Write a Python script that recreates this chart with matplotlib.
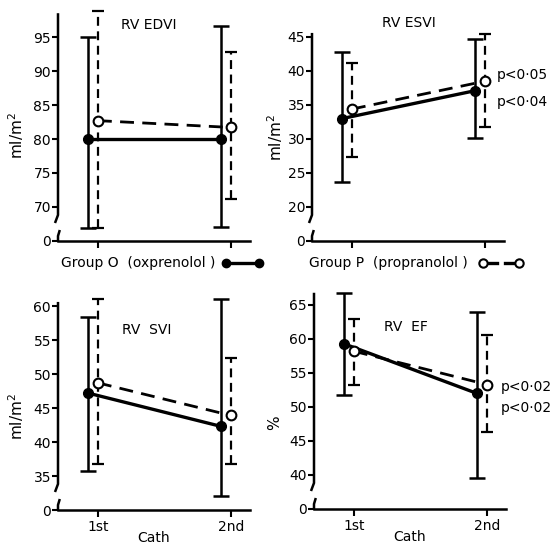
import matplotlib
matplotlib.use('Agg')
import matplotlib.pyplot as plt
from matplotlib.lines import Line2D

plt.rcParams['font.family'] = ['DejaVu Sans']
plt.rcParams['mathtext.default'] = 'regular'

# x positions: 1st / 2nd catheterisation
cath = [1, 2]
cath_labels = ['1st', '2nd']

# RV EDVI (ml/m2)
edvi_o_mean = [80.0, 80.0]
edvi_o_lo = [66.9, 67.0]
edvi_o_hi = [95.0, 96.6]
edvi_p_mean = [82.7, 81.7]
edvi_p_lo = [66.9, 71.2]
edvi_p_hi = [98.8, 92.8]

# RV ESVI (ml/m2)
esvi_o_mean = [33.0, 37.1]
esvi_o_lo = [23.7, 30.2]
esvi_o_hi = [42.8, 44.7]
esvi_p_mean = [34.4, 38.5]
esvi_p_lo = [27.4, 31.8]
esvi_p_hi = [41.2, 45.5]

# RV SVI (ml/m2)
svi_o_mean = [47.2, 42.3]
svi_o_lo = [35.7, 32.0]
svi_o_hi = [58.4, 61.1]
svi_p_mean = [48.7, 43.9]
svi_p_lo = [36.7, 36.7]
svi_p_hi = [61.1, 52.4]

# RV EF (%)
ef_o_mean = [59.3, 52.0]
ef_o_lo = [51.8, 39.6]
ef_o_hi = [66.8, 64.0]
ef_p_mean = [58.2, 53.3]
ef_p_lo = [53.3, 46.3]
ef_p_hi = [62.9, 60.6]

W, H = 552, 546
PX_PER_UNIT = 6.8
XLIM = (0.7, 2.14)
X_PX = 133
O_SHIFT = -0.075
P_SHIFT = 0.0
FS = 10

fig = plt.figure(figsize=(W / 100, H / 100), dpi=100)


def make_axes(left_px, bottom_px, ylo, yhi):
    width = (XLIM[1] - XLIM[0]) * X_PX
    height = (yhi - ylo) * PX_PER_UNIT
    ax = fig.add_axes([left_px / W, 1 - bottom_px / H, width / W, height / H])
    ax.set_xlim(*XLIM)
    ax.set_ylim(ylo, yhi)
    return ax


def draw_panel(ax, o_mean, o_lo, o_hi, p_mean, p_lo, p_hi, yticks, bottom_row):
    ylo, yhi = ax.get_ylim()
    xo = [c + O_SHIFT for c in cath]
    xp = [c + P_SHIFT for c in cath]

    # group P: dashed, open circles
    ax.vlines(xp, p_lo, p_hi, colors='black', linewidth=1.6,
              linestyles=(0, (4, 2.5)), clip_on=False, zorder=3)
    ax.plot(xp, p_lo, ls='none', marker='_', ms=8, mew=1.6, color='black',
            clip_on=False, zorder=3)
    ax.plot(xp, p_hi, ls='none', marker='_', ms=8, mew=1.6, color='black',
            clip_on=False, zorder=3)
    ax.plot(xp, p_mean, color='black', linewidth=2.0, linestyle=(0, (5, 3)),
            zorder=4, clip_on=False)

    # group O: solid, filled circles
    ax.vlines(xo, o_lo, o_hi, colors='black', linewidth=1.8, clip_on=False, zorder=5)
    ax.plot(xo, o_lo, ls='none', marker='_', ms=11, mew=1.8, color='black',
            clip_on=False, zorder=5)
    ax.plot(xo, o_hi, ls='none', marker='_', ms=11, mew=1.8, color='black',
            clip_on=False, zorder=5)
    ax.plot(xo, o_mean, color='black', linewidth=2.4, marker='o', ms=7,
            zorder=6, clip_on=False)

    ax.plot(xp, p_mean, ls='none', marker='o', ms=7, mfc='white', mec='black',
            mew=1.5, zorder=7, clip_on=False)

    # axes styling with broken y axis
    for s in ['top', 'right', 'left']:
        ax.spines[s].set_visible(False)
    ax.spines['bottom'].set_linewidth(1.8)
    x0 = XLIM[0]
    dx = 3.0 / X_PX
    u = 1.0 / PX_PER_UNIT
    ax.plot([x0 - dx, x0, x0], [ylo + 18 * u, ylo + 26 * u, yhi], color='black',
            lw=1.8, clip_on=False, solid_capstyle='butt')
    ax.plot([x0 + 0.6 * dx, x0, x0], [ylo + 11 * u, ylo + 5 * u, ylo], color='black',
            lw=1.8, clip_on=False, solid_capstyle='butt')

    ax.set_yticks([ylo] + yticks)
    ax.set_yticklabels(['0'] + [str(t) for t in yticks])
    ax.tick_params(axis='y', direction='out', length=4, width=1.5, labelsize=FS, pad=1)
    ax.tick_params(axis='x', direction='out', length=5, width=1.5, labelsize=FS, pad=2)
    ax.set_xticks(cath)
    if bottom_row:
        ax.set_xticklabels(cath_labels)
        ax.set_xlabel('Cath', fontsize=FS, labelpad=-2)
    else:
        ax.set_xticklabels([])


# top-left: RV EDVI
ax1 = make_axes(58, 241, 65, 98.5)
draw_panel(ax1, edvi_o_mean, edvi_o_lo, edvi_o_hi, edvi_p_mean, edvi_p_lo, edvi_p_hi,
           [70, 75, 80, 85, 90, 95], False)
ax1.text(1.38, 96.8, 'RV EDVI', ha='center', va='center', fontsize=FS)

# top-right: RV ESVI
ax2 = make_axes(312, 241, 15, 45.6)
draw_panel(ax2, esvi_o_mean, esvi_o_lo, esvi_o_hi, esvi_p_mean, esvi_p_lo, esvi_p_hi,
           [20, 25, 30, 35, 40, 45], False)
ax2.text(1.43, 47.1, 'RV ESVI', ha='center', va='center', fontsize=FS)
ax2.text(2.09, 39.4, 'p<0·05', ha='left', va='center', fontsize=FS)
ax2.text(2.09, 35.4, 'p<0·04', ha='left', va='center', fontsize=FS)

# bottom-left: RV SVI
ax3 = make_axes(58, 510, 30, 60.6)
draw_panel(ax3, svi_o_mean, svi_o_lo, svi_o_hi, svi_p_mean, svi_p_lo, svi_p_hi,
           [35, 40, 45, 50, 55, 60], True)
ax3.text(1.37, 56.5, 'RV  SVI', ha='center', va='center', fontsize=FS)

# bottom-right: RV EF
ax4 = make_axes(314, 509, 35, 66.8)
draw_panel(ax4, ef_o_mean, ef_o_lo, ef_o_hi, ef_p_mean, ef_p_lo, ef_p_hi,
           [40, 45, 50, 55, 60, 65], True)
ax4.text(1.39, 61.8, 'RV  EF', ha='center', va='center', fontsize=FS)
ax4.text(2.105, 52.9, 'p<0·02', ha='left', va='center', fontsize=FS)
ax4.text(2.105, 49.85, 'p<0·02', ha='left', va='center', fontsize=FS)

# y labels
fig.text(16 / W, 1 - 136 / H, 'ml/m$^2$', rotation=90, ha='center', va='center', fontsize=11)
fig.text(275 / W, 1 - 138 / H, 'ml/m$^2$', rotation=90, ha='center', va='center', fontsize=11)
fig.text(16 / W, 1 - 417 / H, 'ml/m$^2$', rotation=90, ha='center', va='center', fontsize=11)
fig.text(275 / W, 1 - 423 / H, '%', rotation=90, ha='center', va='center', fontsize=11)

# legend row
ly = 1 - 263 / H
fig.text(61 / W, ly, 'Group O  (oxprenolol )', ha='left', va='center', fontsize=FS)
fig.add_artist(Line2D([226 / W, 259 / W], [ly, ly], color='black', lw=2.4,
                      marker='o', ms=6, transform=fig.transFigure))
fig.text(309 / W, ly, 'Group P  (propranolol )', ha='left', va='center', fontsize=FS)
fig.add_artist(Line2D([486 / W, 497 / W], [ly, ly], color='black', lw=2.4,
                      transform=fig.transFigure))
fig.add_artist(Line2D([505 / W, 516 / W], [ly, ly], color='black', lw=2.4,
                      transform=fig.transFigure))
fig.add_artist(Line2D([483 / W, 519 / W], [ly, ly], ls='none', marker='o', ms=6,
                      mfc='white', mec='black', mew=1.5, transform=fig.transFigure))

plt.savefig('out.png', dpi=100)
